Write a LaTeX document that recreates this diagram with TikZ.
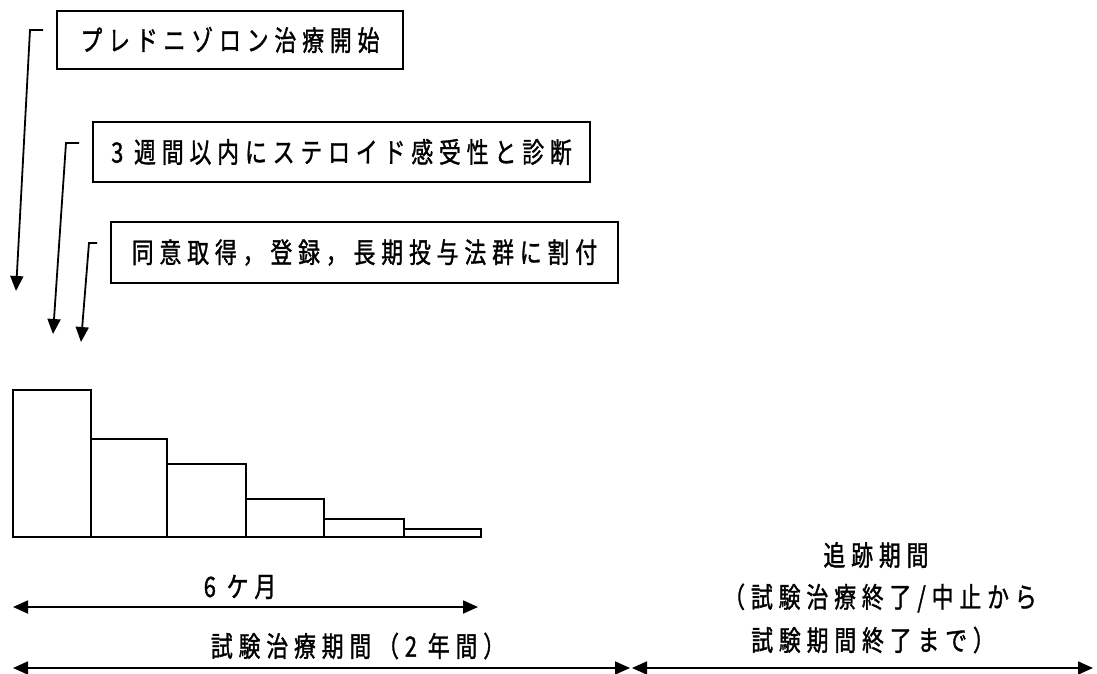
\documentclass[tikz,border=0pt]{standalone}
\usepackage{fontspec}
\newfontfamily\jp[FakeStretch=0.78,LetterSpace=21,FakeBold=1.2]{Noto Sans CJK JP}
\usetikzlibrary{arrows.meta}
\begin{document}
\begin{tikzpicture}[x=1pt,y=-1pt,
  txt/.style={font=\jp\fontsize{28}{32}\selectfont, inner sep=0pt},
  box/.style={txt, draw, line width=1.8pt, minimum height=#1},
  conn/.style={line width=1.8pt, -{Triangle[length=15pt,width=13pt]}},
  dim/.style={line width=1.8pt, {Triangle[length=15pt,width=13pt]}-{Triangle[length=15pt,width=13pt]}},
  bar/.style={line width=1.8pt}]
\useasboundingbox (0,0) rectangle (1097,674);
% boxes
\node[box=58pt, minimum width=346pt] (b1) at (230,40) {プレドニゾロン治療開始};
\node[box=60pt, minimum width=497pt] (b2) at (341.5,152) {3 週間以内にステロイド感受性と診断};
\node[box=61pt, minimum width=507pt] (b3) at (364.5,252.5) {同意取得，登録，長期投与法群に割付};
% bracket arrows
\coordinate (s1) at (43,30);  \coordinate (k1) at (30,30);  \coordinate (e1) at (16,291);
\coordinate (s2) at (79,143); \coordinate (k2) at (66,143); \coordinate (e2) at (53,334);
\coordinate (s3) at (97,243); \coordinate (k3) at (89,243); \coordinate (e3) at (81,342);
\draw[conn] (s1) -- (k1) -- (e1);
\draw[conn] (s2) -- (k2) -- (e2);
\draw[conn] (s3) -- (k3) -- (e3);
% bars
\draw[bar] (13,390) rectangle (91,537);
\draw[bar] (91,439) rectangle (167,537);
\draw[bar] (167,464) rectangle (246,537);
\draw[bar] (246,499) rectangle (324,537);
\draw[bar] (324,519) rectangle (404,537);
\draw[bar] (404,529) rectangle (481,537);
% dimension arrows
\coordinate (m6L) at (13,607);  \coordinate (m6R) at (478,607);
\coordinate (tL) at (13,668);   \coordinate (tR) at (630,668);
\coordinate (fL) at (632,668);  \coordinate (fR) at (1093,668);
\draw[dim] (m6L) -- (m6R);
\draw[dim] (tL) -- (tR);
\draw[dim] (fL) -- (fR);
% labels
\node[txt] (l6) at (240,587) {6 ケ月};
\node[txt] (lt) at (358,646) {試験治療期間（2 年間）};
\node[txt] (lf1) at (876,555) {追跡期間};
\node[txt] (lf2) at (880,598) {（試験治療終了/中止から};
\node[txt] (lf3) at (873,640) {試験期間終了まで）};
\end{tikzpicture}
\end{document}
